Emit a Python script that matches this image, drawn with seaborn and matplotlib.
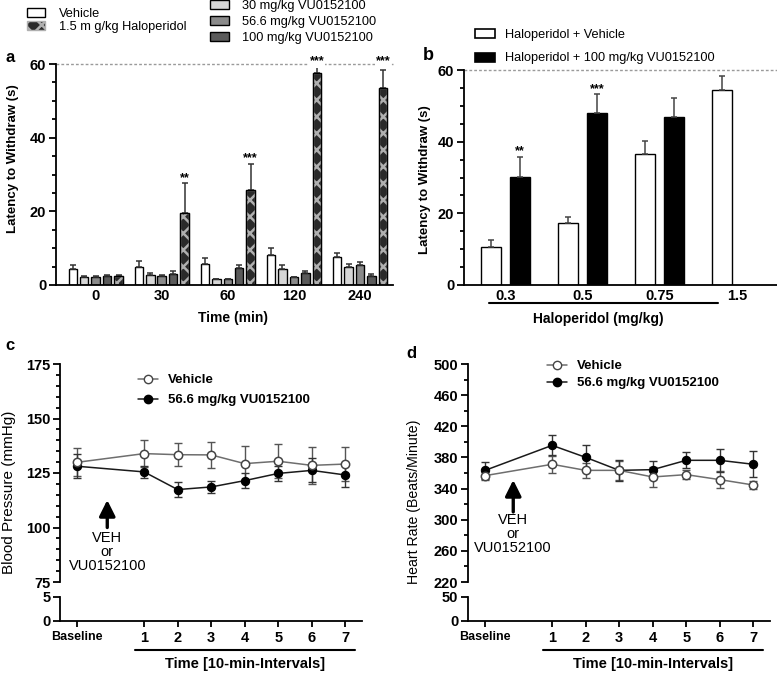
import numpy as np
import pandas as pd
import matplotlib
matplotlib.use("Agg")
import matplotlib.pyplot as plt
import seaborn as sns
from matplotlib.patches import Patch, Rectangle
from matplotlib.lines import Line2D
from matplotlib.ticker import MultipleLocator
import matplotlib.transforms as mtrans

# ---------------- data ----------------
# panel a
times_a = ["0", "30", "60", "120", "240"]
groups_a = ["Vehicle", "30 mg/kg VU0152100", "56.6 mg/kg VU0152100",
            "100 mg/kg VU0152100", "1.5 m g/kg Haloperidol"]
vehicle_a = [4.4, 4.8, 5.6, 8.2, 7.6]
vehicle_a_err = [1.1, 1.6, 1.6, 1.9, 1.2]
vu30_a = [2.2, 2.8, 1.6, 4.4, 4.8]
vu30_a_err = [0.2, 0.4, 0.1, 1.0, 0.9]
vu56_a = [2.2, 2.4, 1.5, 2.1, 5.3]
vu56_a_err = [0.2, 0.3, 0.1, 0.2, 0.9]
vu100_a = [2.5, 3.0, 4.5, 3.2, 2.4]
vu100_a_err = [0.3, 0.9, 1.0, 0.7, 0.5]
halo_a = [2.5, 19.5, 25.9, 57.5, 53.5]
halo_a_err = [0.3, 8.1, 7.0, 2.1, 4.9]
stars_a = ["", "**", "***", "***", "***"]

# panel b
doses_b = ["0.3", "0.5", "0.75", "1.5"]
groups_b = ["Haloperidol + Vehicle", "Haloperidol + 100 mg/kg VU0152100"]
haloveh_b = [10.7, 17.2, 36.6, 54.4]
haloveh_b_err = [1.9, 1.9, 3.7, 3.8]
halovu_b = [30.2, 47.9, 46.8, np.nan]
halovu_b_err = [5.6, 5.3, 5.5, np.nan]
stars_b = ["**", "***", "", ""]

# panels c, d
time_pos = [-1, 1, 2, 3, 4, 5, 6, 7]
time_labels = ["Baseline", "1", "2", "3", "4", "5", "6", "7"]
series_cd = ["Vehicle", "56.6 mg/kg VU0152100"]
bp_veh = [129.9, 133.9, 133.4, 133.3, 129.3, 130.4, 128.5, 129.1]
bp_veh_err = [6.5, 6.1, 5.4, 5.9, 7.9, 7.9, 8.4, 7.7]
bp_vu = [128.1, 125.5, 117.4, 118.6, 121.5, 124.8, 126.2, 124.1]
bp_vu_err = [5.4, 2.9, 3.4, 2.7, 3.5, 3.3, 5.5, 5.7]
hr_veh = [356.6, 371.2, 363.4, 363.4, 354.9, 357.9, 351.5, 344.6]
hr_veh_err = [6, 11, 10, 12, 13, 6, 11, 5]
hr_vu = [363.4, 395.5, 380.1, 363.4, 364.3, 376.3, 376.3, 371.2]
hr_vu_err = [10.7, 13, 15.4, 13.7, 11.5, 10.3, 14.5, 16.7]

# ---------------- style ----------------
sns.set_theme(style="ticks")
plt.rcParams["font.family"] = ["Liberation Sans", "DejaVu Sans"]
plt.rcParams.update({
    "axes.linewidth": 1.3, "axes.edgecolor": "black",
    "xtick.color": "black", "ytick.color": "black",
    "xtick.major.width": 1.3, "ytick.major.width": 1.3, "ytick.minor.width": 1.3,
    "ytick.major.size": 5, "ytick.minor.size": 3, "xtick.major.size": 4,
    "hatch.linewidth": 1.8, "text.color": "black", "axes.labelcolor": "black",
})

W, H = 777, 677
fig = plt.figure(figsize=(W / 100, H / 100), dpi=100)


def rect(l, t, r, b):
    return [l / W, 1 - b / H, (r - l) / W, (b - t) / H]


def bar_errors(ax, conts, errs, color):
    for gi, cont in enumerate(conts):
        for bar in cont:
            if bar is None or not np.isfinite(bar.get_height()):
                continue
            xc = bar.get_x() + bar.get_width() / 2
            ci = int(round(xc))
            e = errs[gi][ci]
            if not np.isfinite(e):
                continue
            ax.errorbar(xc, bar.get_height(), yerr=[[0], [e]], fmt="none",
                        ecolor=color, elinewidth=1.1, capsize=2.5, capthick=1.1,
                        clip_on=False, zorder=1)


TICKFS = 10.5

# ---------------- panel a ----------------
df_a = pd.DataFrame({
    "time": np.tile(times_a, 5),
    "group": np.repeat(groups_a, 5),
    "value": np.concatenate([vehicle_a, vu30_a, vu56_a, vu100_a, halo_a]),
})
pal_a = dict(zip(groups_a, ["white", "#d6d6d6", "#8a8a8a", "#5a5a5a", "#2a2a2a"]))
ax_a = fig.add_axes(rect(56, 64, 393, 285))
sns.barplot(data=df_a, x="time", y="value", hue="group", order=times_a,
            hue_order=groups_a, palette=pal_a, saturation=1, width=0.866, gap=0.26,
            edgecolor="black", linewidth=1, errorbar=None, legend=False, ax=ax_a)
conts_a = list(ax_a.containers)
errs_a = [vehicle_a_err, vu30_a_err, vu56_a_err, vu100_a_err, halo_a_err]
bar_errors(ax_a, conts_a, errs_a, "#333333")
# hatch haloperidol bars
for bar in conts_a[4]:
    bar.set_hatch("xx")
    bar.set_edgecolor("#b0b0b0")
    ax_a.add_patch(Rectangle((bar.get_x(), bar.get_y()), bar.get_width(), bar.get_height(),
                             fill=False, ec="black", lw=1, zorder=bar.get_zorder() + 0.1))
ax_a.axhline(60, ls=(0, (2, 1.5)), color="#9a9a9a", lw=1, zorder=0.5, clip_on=False)
for bar in conts_a[4]:
    xc = bar.get_x() + bar.get_width() / 2
    ci = int(round(xc))
    s = stars_a[ci]
    if not s:
        continue
    top = halo_a[ci] + halo_a_err[ci]
    if top > 55:
        ax_a.text(xc, 60, s, ha="center", va="baseline", fontsize=9, fontweight="bold",
                  bbox=dict(fc="white", ec="none", pad=0.6), zorder=5, clip_on=False)
    else:
        ax_a.text(xc, top + 0.6, s, ha="center", va="baseline", fontsize=9,
                  fontweight="bold", zorder=5)
ax_a.set_xlim(-0.6, 4.5)
ax_a.set_ylim(0, 60)
ax_a.set_yticks([0, 20, 40, 60])
ax_a.yaxis.set_minor_locator(MultipleLocator(5))
ax_a.tick_params(axis="x", length=0, pad=3)
ax_a.tick_params(axis="y", pad=2)
sns.despine(ax=ax_a)
for lab in ax_a.get_xticklabels() + ax_a.get_yticklabels():
    lab.set_fontweight("bold")
    lab.set_fontsize(TICKFS)
ax_a.set_xlabel("Time (min)", fontsize=10, fontweight="bold", va="center")
ax_a.xaxis.set_label_coords(0.524, -0.149)
ax_a.set_ylabel("Latency to Withdraw (s)", fontsize=9.5, fontweight="bold", va="center")
ax_a.yaxis.set_label_coords(-0.127, 0.57)

h_a = [Patch(fc=pal_a[g], ec="black", lw=1) for g in groups_a]
h_a[4] = Patch(fc="#2a2a2a", ec="#b0b0b0", hatch="xx", lw=1)
fig.legend([h_a[0], h_a[4]], [groups_a[0], groups_a[4]], loc="upper left",
           bbox_to_anchor=(27 / W, 1 - 8 / H), frameon=False, borderpad=0,
           borderaxespad=0, handlelength=1.4, handleheight=0.7, handletextpad=1.1,
           labelspacing=0.05, fontsize=9.2)
fig.legend(h_a[1:4], groups_a[1:4], loc="upper left",
           bbox_to_anchor=(210 / W, 1 - 0 / H), frameon=False, borderpad=0,
           borderaxespad=0, handlelength=1.5, handleheight=0.7, handletextpad=1.0,
           labelspacing=0.33, fontsize=9.2)
fig.text(5 / W, 1 - 58 / H, "a", fontsize=12, fontweight="bold", va="center")

# ---------------- panel b ----------------
df_b = pd.DataFrame({
    "dose": np.tile(doses_b, 2),
    "group": np.repeat(groups_b, 4),
    "value": np.concatenate([haloveh_b, halovu_b]),
})
pal_b = dict(zip(groups_b, ["white", "black"]))
ax_b = fig.add_axes(rect(464, 70, 777, 285))
sns.barplot(data=df_b, x="dose", y="value", hue="group", order=doses_b,
            hue_order=groups_b, palette=pal_b, saturation=1, width=0.753, gap=0.31,
            edgecolor="black", linewidth=1, errorbar=None, legend=False, ax=ax_b)
conts_b = list(ax_b.containers)
bar_errors(ax_b, conts_b, [haloveh_b_err, halovu_b_err], "#444444")
ax_b.axhline(60, ls=(0, (2, 1.5)), color="#9a9a9a", lw=1, zorder=0.5, clip_on=False)
for bar in conts_b[1]:
    xc = bar.get_x() + bar.get_width() / 2
    ci = int(round(xc))
    if stars_b[ci]:
        ax_b.text(xc, halovu_b[ci] + halovu_b_err[ci] + 0.6, stars_b[ci], ha="center",
                  va="baseline", fontsize=9, fontweight="bold")
ax_b.set_xlim(-0.54, 3.52)
ax_b.set_ylim(0, 60)
ax_b.set_yticks([0, 20, 40, 60])
ax_b.yaxis.set_minor_locator(MultipleLocator(5))
ax_b.tick_params(axis="x", length=0, pad=3)
ax_b.tick_params(axis="y", pad=2)
sns.despine(ax=ax_b)
for lab in ax_b.get_xticklabels() + ax_b.get_yticklabels():
    lab.set_fontweight("bold")
    lab.set_fontsize(TICKFS)
ax_b.set_xlabel("Haloperidol (mg/kg)", fontsize=10, fontweight="bold", va="center")
ax_b.xaxis.set_label_coords(0.43, -0.158)
ax_b.set_ylabel("Latency to Withdraw (s)", fontsize=9.5, fontweight="bold", va="center")
ax_b.yaxis.set_label_coords(-0.125, 0.49)
tb = mtrans.blended_transform_factory(ax_b.transData, fig.transFigure)
ax_b.plot([-0.21, 2.75], [1 - 303 / H] * 2, color="black", lw=1.5, transform=tb,
          clip_on=False)
h_b = [Patch(fc="white", ec="black", lw=1.2), Patch(fc="black", ec="black", lw=1.2)]
fig.legend(h_b, groups_b, loc="upper left", bbox_to_anchor=(475 / W, 1 - 29 / H),
           frameon=False, borderpad=0, borderaxespad=0, handlelength=1.55,
           handleheight=0.7, handletextpad=0.8, labelspacing=0.9, fontsize=9.2)
fig.text(423 / W, 1 - 55 / H, "b", fontsize=13, fontweight="bold", va="center")


# ---------------- panels c, d ----------------
def line_panel(l, r, veh, veh_err, vu, vu_err, ylim, major, minor, low_top,
               ylabel, ylab_fs, ylab_xy, legend_anchor, leg_spacing, letter, letter_xy,
               arrow_tip, arrow_tail, text_y, arrow_x):
    ax_u = fig.add_axes(rect(l, 364, r, 582))
    ax_l = fig.add_axes(rect(l, 597, r, 621))
    sns.lineplot(x=time_pos, y=veh, color="#6e6e6e", lw=1.1, marker="o",
                 markerfacecolor="white", markeredgecolor="#444444", markersize=6,
                 markeredgewidth=1.1, ax=ax_u, zorder=4)
    sns.lineplot(x=time_pos, y=vu, color="#1a1a1a", lw=1.1, marker="o",
                 markerfacecolor="black", markeredgecolor="black", markersize=6,
                 ax=ax_u, zorder=3)
    ax_u.errorbar(time_pos, veh, yerr=veh_err, fmt="none", ecolor="#555555",
                  elinewidth=1, capsize=3, capthick=1, zorder=2)
    ax_u.errorbar(time_pos, vu, yerr=vu_err, fmt="none", ecolor="#333333",
                  elinewidth=1, capsize=3, capthick=1, zorder=2)
    for ax in (ax_u, ax_l):
        ax.set_xlim(-1.51, 7.5)
        ax.tick_params(axis="y", pad=2)
    ax_u.set_ylim(*ylim)
    ax_u.set_yticks(major)
    ax_u.yaxis.set_minor_locator(MultipleLocator(minor))
    ax_u.set_xticks([])
    sns.despine(ax=ax_u, bottom=True)
    ax_l.set_ylim(0, low_top)
    ax_l.set_yticks([0, low_top])
    ax_l.set_xticks(time_pos)
    ax_l.set_xticklabels(time_labels)
    ax_l.tick_params(axis="x", pad=3)
    sns.despine(ax=ax_l)
    for lab in ax_u.get_yticklabels() + ax_l.get_yticklabels():
        lab.set_fontsize(TICKFS)
        lab.set_fontweight("bold")
    for lab in ax_l.get_xticklabels():
        lab.set_fontsize(TICKFS)
        lab.set_fontweight("bold")
    ax_l.get_xticklabels()[0].set_fontsize(9)
    ax_u.set_ylabel(ylabel, fontsize=ylab_fs, va="center")
    ax_u.yaxis.set_label_coords(*ylab_xy)
    ax_l.set_xlabel("Time [10-min-Intervals]", fontsize=10.5, fontweight="bold",
                    va="center")
    ax_l.xaxis.set_label_coords((4 + 1.51) / 9.01, -1.8)
    tl = mtrans.blended_transform_factory(ax_l.transData, fig.transFigure)
    ax_l.plot([0.73, 7.28], [1 - 650 / H] * 2, color="black", lw=1.5, transform=tl,
              clip_on=False)
    ax_u.annotate("", xy=(arrow_x, arrow_tip), xytext=(arrow_x, arrow_tail),
                  arrowprops=dict(arrowstyle="-|>,head_width=0.4,head_length=0.8",
                                  color="black", lw=2.4, mutation_scale=12,
                                  shrinkA=0, shrinkB=0))
    ax_u.text(arrow_x, text_y, "VEH\nor\nVU0152100", ha="center", va="top",
              fontsize=10.5, linespacing=1.0)
    hd = [Line2D([], [], color="#6e6e6e", lw=1.1, marker="o", mfc="white",
                 mec="#444444", ms=6),
          Line2D([], [], color="#1a1a1a", lw=1.1, marker="o", mfc="black",
                 mec="black", ms=6)]
    fig.legend(hd, series_cd, loc="upper left", bbox_to_anchor=legend_anchor,
               frameon=False, borderpad=0, borderaxespad=0, handlelength=1.5,
               handletextpad=0.8, labelspacing=leg_spacing,
               prop={"weight": "bold", "size": 9.5})
    fig.text(letter_xy[0] / W, 1 - letter_xy[1] / H, letter, fontsize=12,
             fontweight="bold", va="center")


line_panel(60, 362, bp_veh, bp_veh_err, bp_vu, bp_vu_err, (75, 175),
           [75, 100, 125, 150, 175], 5, 5, "Blood Pressure (mmHg)", 11, (-0.169, 0.41),
           (138 / W, 1 - 374 / H), 0.58, "c", (5, 345), 112.6, 100.0, 98.4, -0.1)
line_panel(468, 770, hr_veh, hr_veh_err, hr_vu, hr_vu_err, (220, 500),
           [220, 260, 300, 340, 380, 420, 460, 500], 20, 50,
           "Heart Rate (Beats/Minute)", 10.2, (-0.179, 0.37),
           (547 / W, 1 - 360 / H), 0.38, "d", (406, 353), 351, 310, 308.6, -0.16)

fig.savefig("out.png", dpi=100)
